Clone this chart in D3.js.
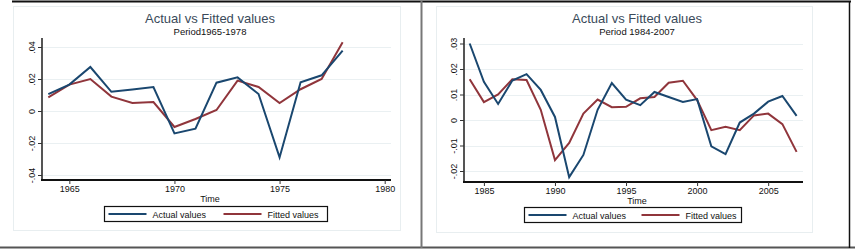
<!DOCTYPE html>
<html>
<head>
<meta charset="utf-8">
<script src="https://cdn.jsdelivr.net/npm/d3@7"></script>
<style>
  body { margin: 0; background: #fff; }
  svg { display: block; font-family: "Liberation Sans", Arial, sans-serif; }
</style>
</head>
<body>
<script>
// left panel: 1964-1978
var yearsA = [1964,1965,1966,1967,1968,1969,1970,1971,1972,1973,1974,1975,1976,1977,1978];
var actualA = [0.0105,0.0165,0.0275,0.012,0.0135,0.015,-0.014,-0.011,0.0177,0.021,0.0106,-0.029,0.018,0.0223,0.0377];
var fittedA = [0.0085,0.0165,0.020,0.009,0.005,0.0056,-0.010,-0.005,0.0006,0.019,0.015,0.005,0.0136,0.020,0.043];

// right panel: 1984-2007
var yearsB = d3.range(1984, 2008);
var actualB = [0.030,0.015,0.0063,0.0155,0.018,0.0118,0.0012,-0.0224,-0.0137,0.004,0.0145,0.008,0.0058,0.011,0.009,0.0071,0.0082,-0.0103,-0.0134,-0.001,0.0025,0.0072,0.0094,0.0016];
var fittedB = [0.016,0.007,0.010,0.016,0.0157,0.004,-0.0157,-0.009,0.0025,0.008,0.005,0.0052,0.0085,0.009,0.0146,0.0154,0.0078,-0.004,-0.0027,-0.004,0.0018,0.0025,-0.0016,-0.0125];

var ticksYA = [-0.04,-0.02,0,0.02,0.04];
var ticksXA = [1965,1970,1975,1980];
var ticksYB = [-0.02,-0.01,0,0.01,0.02,0.03];
var ticksXB = [1985,1990,1995,2000,2005];

var navy = "#1a476f", maroon = "#90353b";

var svg = d3.select("body").append("svg").attr("width", 855).attr("height", 250);

// frame lines
svg.append("line").attr("x1", 12).attr("x2", 851).attr("y1", 1.5).attr("y2", 1.5).attr("stroke", "#111").attr("stroke-width", 2);
svg.append("line").attr("x1", 0).attr("x2", 855).attr("y1", 247.5).attr("y2", 247.5).attr("stroke", "#555").attr("stroke-width", 2);
svg.append("line").attr("x1", 421.5).attr("x2", 421.5).attr("y1", 1).attr("y2", 248).attr("stroke", "#777").attr("stroke-width", 2);
svg.append("line").attr("x1", 849.5).attr("x2", 849.5).attr("y1", 1).attr("y2", 248).attr("stroke", "#111").attr("stroke-width", 1.5);

function fmt(d) {
  if (d === 0) return "0";
  return d3.format(".2f")(Math.abs(d)).replace("0.", (d < 0 ? "-" : "") + ".");
}

function panel(cfg) {
  var g = svg.append("g");
  // outer plot region
  g.append("rect").attr("x", cfg.box[0]).attr("y", cfg.box[1]).attr("width", cfg.box[2]).attr("height", cfg.box[3])
    .attr("fill", "#fff").attr("stroke", "#e8eef0").attr("stroke-width", 1);

  var x = d3.scaleLinear().domain(cfg.xdom).range(cfg.xr);
  var y = d3.scaleLinear().domain(cfg.ydom).range(cfg.yr);

  // gridlines
  g.selectAll(".grid").data(cfg.ticksY).enter().append("line")
    .attr("x1", cfg.xr[0]).attr("x2", cfg.xr[1])
    .attr("y1", function(d) { return Math.round(y(d)) + 0.5; })
    .attr("y2", function(d) { return Math.round(y(d)) + 0.5; })
    .attr("stroke", "#eaf0f2").attr("stroke-width", 1);

  // y axis
  var ya = g.append("g").attr("transform", "translate(" + cfg.xr[0] + ",0)")
    .call(d3.axisLeft(y).tickValues(cfg.ticksY).tickSize(4).tickFormat(fmt));
  ya.select(".domain").attr("stroke", "#555").attr("stroke-width", 2).attr("d", "M0," + cfg.bottom + "V" + cfg.top);
  ya.selectAll(".tick line").attr("stroke", "#333");
  ya.selectAll(".tick text").attr("fill", "#111").attr("font-size", 9)
    .attr("text-anchor", "middle").attr("transform", "rotate(-90)")
    .attr("x", 0).attr("y", -7).attr("dy", "0em");

  // x axis
  var xa = g.append("g").attr("transform", "translate(0," + cfg.bottom + ")")
    .call(d3.axisBottom(x).tickValues(cfg.ticksX).tickSize(4).tickFormat(d3.format("d")));
  xa.select(".domain").attr("stroke", "#111").attr("stroke-width", 2).attr("d", "M" + (cfg.xr[0] - 1) + ",0H" + cfg.xr[1]);
  xa.selectAll(".tick line").attr("stroke", "#333");
  xa.selectAll(".tick text").attr("fill", "#111").attr("font-size", 9).attr("y", 5.5);

  g.append("text").attr("x", cfg.titleX).attr("y", cfg.bottom + 22).attr("text-anchor", "middle")
    .attr("font-size", 9).attr("fill", "#111").text("Time");

  var line = d3.line().x(function(d) { return x(d[0]); }).y(function(d) { return y(d[1]); });
  g.append("path").datum(d3.zip(cfg.years, cfg.fitted)).attr("d", line)
    .attr("fill", "none").attr("stroke", maroon).attr("stroke-width", 2);
  g.append("path").datum(d3.zip(cfg.years, cfg.actual)).attr("d", line)
    .attr("fill", "none").attr("stroke", navy).attr("stroke-width", 2);

  // titles
  g.append("text").attr("x", cfg.titleX).attr("y", 23).attr("text-anchor", "middle")
    .attr("font-size", 13).attr("fill", "#3a4a5a").text("Actual vs Fitted values");
  g.append("text").attr("x", cfg.titleX).attr("y", 35).attr("text-anchor", "middle")
    .attr("font-size", 9.5).attr("fill", "#111").text(cfg.sub);

  // legend
  var lg = g.append("g").attr("transform", "translate(" + cfg.leg[0] + "," + cfg.leg[1] + ")");
  lg.append("rect").attr("x", 0).attr("y", 0).attr("width", cfg.leg[2]).attr("height", 15)
    .attr("fill", "#fff").attr("stroke", "#111").attr("stroke-width", 1.2);
  var items = [{name: "Actual values", c: navy}, {name: "Fitted values", c: maroon}];
  lg.selectAll(".it").data(items).enter().append("g")
    .attr("transform", function(d, i) { return "translate(" + (4 + i * cfg.leg[3]) + ",0)"; })
    .each(function(d) {
      var s = d3.select(this);
      s.append("line").attr("x1", 0).attr("x2", 38).attr("y1", 7.5).attr("y2", 7.5).attr("stroke", d.c).attr("stroke-width", 2);
      s.append("text").attr("x", 44).attr("y", 11).attr("font-size", 9).attr("fill", "#111").text(d.name);
    });
}

panel({
  box: [13.5, 6.5, 387, 224],
  xdom: [1963.7, 1980.3], xr: [42, 391],
  ydom: [0, 0.04], yr: [111, 47],
  bottom: 180, top: 38,
  ticksX: ticksXA, ticksY: ticksYA,
  years: yearsA, actual: actualA, fitted: fittedA,
  titleX: 210, sub: "Period1965-1978",
  leg: [104.5, 206.5, 223, 115]
});

panel({
  box: [436.5, 6.5, 376, 226],
  xdom: [1983.6, 2007.45], xr: [464, 803],
  ydom: [0, 0.03], yr: [120, 43.5],
  bottom: 182, top: 38,
  ticksX: ticksXB, ticksY: ticksYB,
  years: yearsB, actual: actualB, fitted: fittedB,
  titleX: 637, sub: "Period 1984-2007",
  leg: [524.5, 207.5, 217, 113]
});
</script>
</body>
</html>
